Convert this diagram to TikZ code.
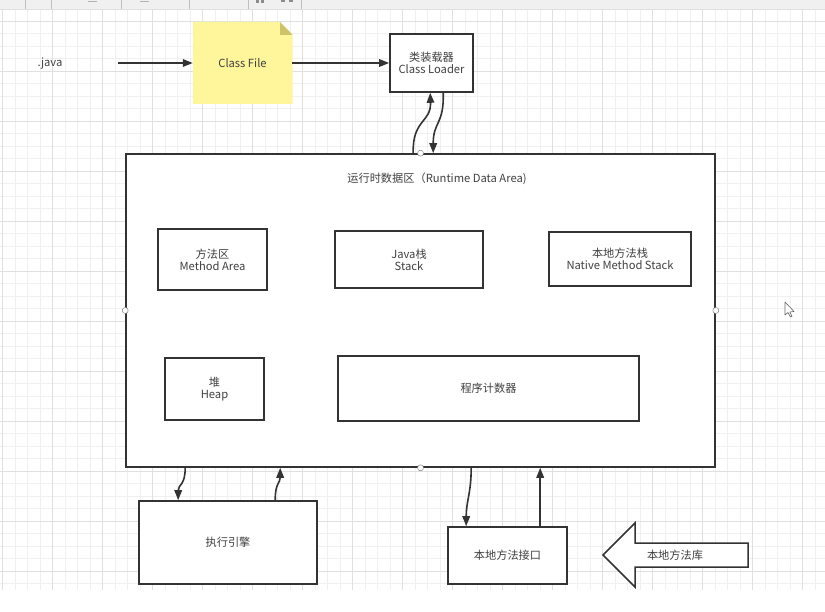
\documentclass[tikz,border=0pt]{standalone}
\usepackage{fontspec}
\setmainfont{Noto Sans CJK SC}
\usetikzlibrary{arrows.meta,calc}
\definecolor{txt}{HTML}{404040}
\definecolor{ln}{HTML}{333333}
\definecolor{notey}{HTML}{FFF59A}
\definecolor{notef}{HTML}{CFC36A}
\definecolor{gmin}{HTML}{F0F0F0}
\definecolor{gmaj}{HTML}{E0E0E0}
\definecolor{tbar}{HTML}{F0F0F0}
\begin{document}
\begin{tikzpicture}[x=1pt,y=-1pt,
  every node/.style={font=\fontsize{11.2}{13}\selectfont, text=txt, align=center},
  box/.style={draw=ln, line width=1.6pt, fill=white, inner sep=0pt},
  conn/.style={draw=ln, line width=1.6pt, -{Triangle[length=10pt,width=7.5pt]}},
  port/.style={circle, draw=gray, fill=white, line width=0.5pt, inner sep=0pt, minimum size=6pt}]
\useasboundingbox (0,0) rectangle (825,612);
\fill[white] (0,0) rectangle (825,612);
% grid
\foreach \k in {0,...,65}{\pgfmathsetmacro\xx{2.7+12.5*\k}\draw[gmin,line width=0.6pt] (\xx,9) -- (\xx,590);}
\foreach \k in {0,...,46}{\pgfmathsetmacro\yy{8.5+12.5*\k}\draw[gmin,line width=0.6pt] (0,\yy) -- (825,\yy);}
\foreach \k in {0,...,16}{\pgfmathsetmacro\xx{2.7+50*\k}\draw[gmaj,line width=0.7pt] (\xx,9) -- (\xx,590);}
\foreach \k in {0,...,11}{\pgfmathsetmacro\yy{21+50*\k}\draw[gmaj,line width=0.7pt] (0,\yy) -- (825,\yy);}
% toolbar
\fill[tbar] (0,0) rectangle (825,9);
\draw[gmaj] (0,9) -- (825,9);
\foreach \xx in {25,51,121,189,248,301}{\draw[gray!50] (\xx,0) -- (\xx,9);}
\fill[gray!60] (88,1.5) rectangle (97,2.5);
\fill[gray!60] (140,1.5) rectangle (149,2.5);
\fill[gray!90] (256,0) rectangle (259,3);
\fill[gray!90] (261,0) rectangle (264,3);
\fill[gray!90] (281,0) rectangle (285,2);
\fill[gray!90] (289,0) rectangle (293,2);
% note: Class File
\fill[notey] (193,22) -- (280,22) -- (292.7,35) -- (292.7,104) -- (193,104) -- cycle;
\fill[notef] (280,22) -- (292.7,35) -- (280,35) -- cycle;
\node[inner sep=0pt, minimum width=99pt, minimum height=82pt] (cf) at (242.5,63) {Class File};
% java
\node (java) at (50,64) {.java};
\coordinate (javaout) at (118,63);
% class loader
\node[box, minimum width=83pt, minimum height=58pt] (cl) at (431.5,63) {类装载器\\[-1pt]Class Loader};
% runtime data area
\node[box, minimum width=589pt, minimum height=313pt] (rt) at (420.5,310.5) {};
\node (rtt) at (437,179) {运行时数据区（Runtime Data Area)};
\node[box, minimum width=109pt, minimum height=61pt] (ma) at (212.5,259.5) {方法区\\[-1pt]Method Area};
\node[box, minimum width=148pt, minimum height=57pt] (js) at (409,259.5) {Java栈\\[-1pt]Stack};
\node[box, minimum width=142pt, minimum height=54pt] (ns) at (620,259) {本地方法栈\\[-1pt]Native Method Stack};
\node[box, minimum width=99pt, minimum height=62pt] (hp) at (214.5,389) {堆\\[-1pt]Heap};
\node[box, minimum width=301pt, minimum height=65pt] (pc) at (488.5,388.5) {程序计数器};
% bottom boxes
\node[box, minimum width=178pt, minimum height=83pt] (ee) at (228,542.5) {执行引擎};
\node[box, minimum width=119pt, minimum height=57pt] (ni) at (507.5,555.5) {本地方法接口};
% native library block arrow
\draw[ln, line width=1.5pt, fill=white, line join=miter] (603,555) -- (635,523) -- (635,543) -- (748,543) -- (748,567) -- (635,567) -- (635,587) -- cycle;
\node (lib) at (675,555) {本地方法库};
% connectors
\draw[conn] (javaout) -- (cf.west);
\draw[conn] (cf.east) -- (cl.west);
\draw[conn] ($(rt.north west)+(288,0)$) .. controls ($(rt.north west)+(287,-34)$) and ($(cl.south west)+(42,30)$) .. ($(cl.south west)+(41,0)$);
\draw[conn] ($(cl.south west)+(54,0)$) .. controls ($(cl.south west)+(55,32)$) and ($(rt.north west)+(308,-32)$) .. ($(rt.north west)+(308,0)$);
\draw[conn] ($(rt.south west)+(60,0)$) .. controls ($(rt.south west)+(60,18)$) and ($(ee.north west)+(40,-16)$) .. ($(ee.north west)+(40,0)$);
\draw[conn] ($(ee.north west)+(137,0)$) .. controls ($(ee.north west)+(137,-18)$) and ($(rt.south west)+(155,16)$) .. ($(rt.south west)+(155,0)$);
\draw[conn] ($(rt.south west)+(346,0)$) .. controls ($(rt.south west)+(346,25)$) and ($(ni.north west)+(19,-25)$) .. ($(ni.north west)+(19,0)$);
\draw[conn] ($(ni.north west)+(93,0)$) -- ($(rt.south west)+(415,0)$);
% ports
\node[port] (p1) at (rt.north) {};
\node[port] (p2) at (rt.south) {};
\node[port] (p3) at (rt.west) {};
\node[port] (p4) at (rt.east) {};
% cursor
\draw[gray!80!black, fill=white, line width=0.6pt, line join=round] (785,302) -- (785,315) -- (788,312.5) -- (790.5,317) -- (792,316.3) -- (789.8,312) -- (794,311.5) -- cycle;
\end{tikzpicture}
\end{document}
